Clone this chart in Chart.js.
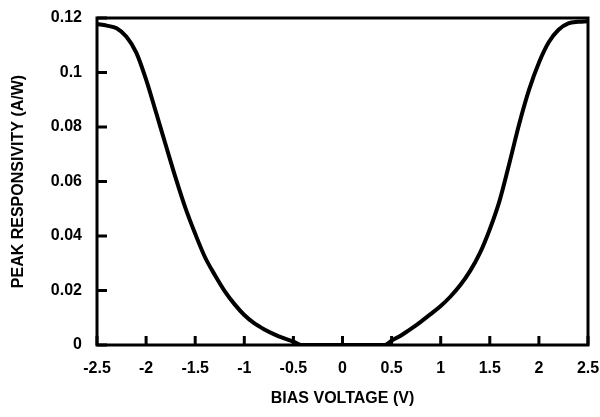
<!DOCTYPE html>
<html>
<head>
<meta charset="utf-8">
<script src="https://cdn.jsdelivr.net/npm/chart.js@4.4.1/dist/chart.umd.min.js"></script>
<style>
  body { margin: 0; background: #fff; }
  canvas { display: block; }
</style>
</head>
<body>
<canvas id="responsivityChart" width="600" height="417"></canvas>
<script>
// Data
const biasVoltage = [-2.5, -2.4, -2.3, -2.2, -2.1, -2.0, -1.9, -1.8, -1.7, -1.6, -1.5, -1.4, -1.3, -1.2, -1.1, -1.0,
    -0.9, -0.8, -0.7, -0.6, -0.5, -0.42, 0, 0.43, 0.5, 0.6, 0.7, 0.8, 0.9, 1.0, 1.1, 1.2, 1.3, 1.4,
    1.5, 1.6, 1.7, 1.8, 1.9, 2.0, 2.1, 2.2, 2.3, 2.4, 2.5];
const peakResponsivity = [0.1178, 0.1172, 0.1162, 0.1131, 0.1073, 0.0974, 0.0855, 0.0734, 0.0614, 0.0503, 0.0408,
    0.0322, 0.0257, 0.0198, 0.0150, 0.0110, 0.0080, 0.0058, 0.0040, 0.0025, 0.0012, 0, 0, 0, 0.0016,
    0.0036, 0.0060, 0.0086, 0.0114, 0.0143, 0.0178, 0.0220, 0.0272, 0.0338, 0.0425, 0.0530, 0.0668,
    0.0812, 0.0937, 0.1036, 0.1111, 0.1157, 0.1180, 0.1186, 0.1188];

const xTicks = [-2.5, -2, -1.5, -1, -0.5, 0, 0.5, 1, 1.5, 2, 2.5];
const xTickLabels = ['-2.5', '-2', '-1.5', '-1', '-0.5', '0', '0.5', '1', '1.5', '2', '2.5'];
const yTicks = [0, 0.02, 0.04, 0.06, 0.08, 0.1, 0.12];
const yTickLabels = ['0', '0.02', '0.04', '0.06', '0.08', '0.1', '0.12'];

const xTitle = 'BIAS VOLTAGE (V)';
const yTitle = 'PEAK RESPONSIVITY (A/W)';

const fontFamily = '"Liberation Sans", Arial, Helvetica, sans-serif';

// frame around the plot + inward tick marks on left and bottom axes
const frameAndTicks = {
    id: 'frameAndTicks',
    afterDatasetsDraw(chart) {
        const { ctx, chartArea: a, scales } = chart;
        ctx.save();
        ctx.strokeStyle = '#000';
        ctx.lineWidth = 3;
        ctx.strokeRect(a.left, a.top, a.right - a.left, a.bottom - a.top);

        ctx.beginPath();
        xTicks.forEach(v => {
            const px = scales.x.getPixelForValue(v);
            ctx.moveTo(px, a.bottom);
            ctx.lineTo(px, a.bottom - 9);
        });
        yTicks.forEach(v => {
            const py = scales.y.getPixelForValue(v);
            ctx.moveTo(a.left, py);
            ctx.lineTo(a.left + 10, py);
        });
        ctx.stroke();
        ctx.restore();
    }
};

const ctx = document.getElementById('responsivityChart').getContext('2d');

new Chart(ctx, {
    type: 'line',
    data: {
        datasets: [{
            data: biasVoltage.map((v, i) => ({ x: v, y: peakResponsivity[i] })),
            borderColor: '#000',
            borderWidth: 4,
            pointRadius: 0,
            fill: false,
            cubicInterpolationMode: 'monotone'
        }]
    },
    options: {
        responsive: false,
        animation: false,
        layout: { padding: { top: 18, right: 12, left: 0, bottom: 0 } },
        plugins: {
            legend: { display: false },
            tooltip: { enabled: false }
        },
        scales: {
            x: {
                type: 'linear',
                min: -2.5,
                max: 2.5,
                afterBuildTicks: scale => { scale.ticks = xTicks.map(v => ({ value: v })); },
                afterFit: scale => {
                    scale.height = 72;
                    scale.paddingLeft = 0;
                    scale.paddingRight = 0;
                },
                grid: { display: false, drawTicks: false },
                border: { display: false },
                ticks: {
                    color: '#000',
                    padding: 14,
                    maxRotation: 0,
                    font: { family: fontFamily, size: 16, weight: 'bold' },
                    callback: (v, i) => xTickLabels[i]
                },
                title: {
                    display: true,
                    text: xTitle,
                    color: '#000',
                    padding: { top: 0, bottom: 9 },
                    font: { family: fontFamily, size: 16, weight: 'bold' }
                }
            },
            y: {
                type: 'linear',
                min: 0,
                max: 0.12,
                afterBuildTicks: scale => { scale.ticks = yTicks.map(v => ({ value: v })); },
                afterFit: scale => {
                    scale.width = 97;
                    scale.paddingTop = 0;
                    scale.paddingBottom = 0;
                },
                grid: { display: false, drawTicks: false },
                border: { display: false },
                ticks: {
                    color: '#000',
                    padding: 15,
                    font: { family: fontFamily, size: 16, weight: 'bold' },
                    callback: (v, i) => yTickLabels[i]
                },
                title: {
                    display: true,
                    text: yTitle,
                    color: '#000',
                    padding: { top: 9, bottom: 0 },
                    font: { family: fontFamily, size: 16, weight: 'bold' }
                }
            }
        }
    },
    plugins: [frameAndTicks]
});
</script>
</body>
</html>
